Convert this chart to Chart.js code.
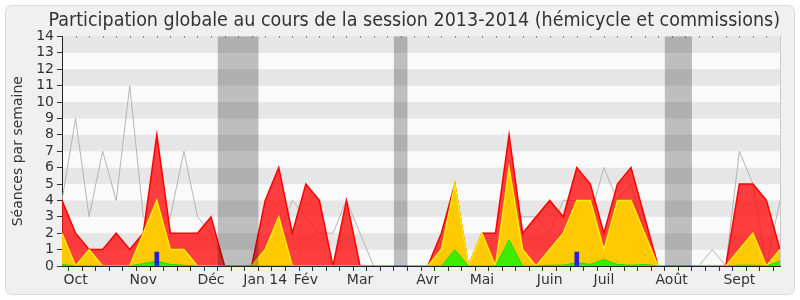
<!DOCTYPE html>
<html>
<head>
<meta charset="utf-8">
<script src="https://cdn.jsdelivr.net/npm/chart.js@4.4.0/dist/chart.umd.min.js"></script>
<style>
  body { margin: 0; background: #fff; }
  canvas { display: block; }
</style>
</head>
<body>
<canvas id="participation" width="800" height="300"></canvas>
<script>
// une valeur par semaine, de fin septembre 2013 a fin septembre 2014
const moisLabels = ['Oct', 'Nov', 'Déc', 'Jan 14', 'Fév', 'Mar', 'Avr', 'Mai', 'Juin', 'Juil', 'Août', 'Sept'];
const moisSemaine = [1, 6, 11, 15, 18, 22, 27, 31, 36, 40, 45, 50];

const presences = [4, 2, 1, 1, 2, 1, 2, 8, 2, 2, 2, 3, 0, 0, 0, 4, 6, 2, 5, 4, 0, 4, 0, 0, 0, 0, 0, 0,
  2, 5, 0, 2, 2, 8, 2, 3, 4, 3, 6, 5, 2, 5, 6, 3, 0, 0, 0, 0, 0, 0, 5, 5, 4, 1];
const commissions = [2, 0, 1, 0, 0, 0, 2, 4, 1, 1, 0, 0, 0, 0, 0, 1, 3, 0, 0, 0, 0, 0, 0, 0, 0, 0, 0, 0,
  1, 5, 0, 2, 0, 6, 1, 0, 1, 2, 4, 4, 1, 4, 4, 2, 0, 0, 0, 0, 0, 0, 1, 2, 0, 1];
const interventions = [0.1, 0, 0, 0, 0, 0, 0.15, 0.3, 0.1, 0.05, 0, 0, 0, 0, 0, 0, 0, 0, 0, 0, 0, 0, 0, 0, 0, 0, 0, 0,
  0, 1, 0, 0, 0, 1.6, 0, 0, 0.05, 0.05, 0.2, 0.1, 0.4, 0.1, 0.05, 0.1, 0, 0, 0, 0, 0, 0, 0.05, 0.05, 0, 0.3];
const questions = [null, null, null, null, null, null, null, 0.85, null, null, null, null, null, null, null, null, null, null,
  null, null, null, null, null, null, null, null, null, null, null, null, null, null, null, null, null, null, null, null,
  0.85, null, null, null, null, null, null, null, null, null, null, null, null, null, null, null];
const maximum = [4, 9, 3, 7, 4, 11, 3, 2, 3, 7, 3, 2, 0, 0, 0, 1, 2, 4, 3, 2, 2, 4, 2, 0, 0, 0, 0, 0,
  1, 3, 0, 2, 2, 3, 3, 3, 2, 4, 4, 3, 6, 4, 5, 2, 0, 0, 0, 0, 1, 0, 7, 5, 0, 4];
const vacances = [[11.5, 14.5], [24.5, 25.5], [44.5, 46.5]];

const labels = presences.map((v, i) => {
  const k = moisSemaine.indexOf(i);
  return k >= 0 ? moisLabels[k] : '';
});

const fond = {
  id: 'fond',
  beforeDraw(chart) {
    const { ctx, chartArea: a, scales: { y } } = chart;
    ctx.save();
    ctx.fillStyle = '#f0f0f0';
    ctx.strokeStyle = '#dadada';
    ctx.beginPath();
    ctx.roundRect(5.5, 5.5, 789, 289, 6);
    ctx.fill();
    ctx.stroke();
    for (let v = 0; v < 14; v++) {
      const y1 = y.getPixelForValue(v + 1), y0 = y.getPixelForValue(v);
      ctx.fillStyle = v % 2 ? '#e6e6e6' : '#fafafa';
      ctx.fillRect(a.left, y1, a.width, y0 - y1);
    }
    ctx.restore();
  },
  afterDatasetsDraw(chart) {
    const { ctx, chartArea: a, scales: { x } } = chart;
    ctx.save();
    ctx.fillStyle = 'rgba(10,10,10,0.25)';
    vacances.forEach(([d, f]) => {
      const x0 = x.getPixelForValue(d), x1 = x.getPixelForValue(f);
      ctx.fillRect(x0, a.top, x1 - x0, a.height);
    });
    ctx.fillStyle = '#333';
    labels.forEach((l, i) => {
      ctx.fillRect(Math.round(x.getPixelForValue(i)), a.top, 1, 1);
    });
    ctx.fillStyle = '#cccccc';
    ctx.fillRect(a.right, a.top, 1, a.height);
    ctx.restore();
  }
};

const ligne = (data, bord, fondCouleur, largeur, ordre) => ({
  type: 'line', data, borderColor: bord, backgroundColor: fondCouleur, borderWidth: largeur,
  fill: fondCouleur ? 'origin' : false, pointRadius: 0, tension: 0, order: ordre
});

new Chart(document.getElementById('participation').getContext('2d'), {
  data: {
    labels: labels,
    datasets: [
      { type: 'bar', data: questions, backgroundColor: '#2222dd', barThickness: 4, order: 0 },
      ligne(interventions, '#22dd00', 'rgba(40,240,0,0.9)', 1, 1),
      ligne(commissions, '#ffee00', 'rgba(255,212,0,0.93)', 1.5, 2),
      ligne(presences, '#ff0000', 'rgba(255,10,10,0.78)', 1.5, 3),
      ligne(maximum, '#b4b4b4', null, 1, 4)
    ]
  },
  options: {
    responsive: false,
    animation: false,
    layout: { padding: { left: 0, right: 20, top: 0, bottom: 0 } },
    plugins: {
      legend: { display: false },
      tooltip: { enabled: false },
      title: {
        display: true,
        align: 'end',
        text: 'Participation globale au cours de la session 2013-2014 (hémicycle et commissions)',
        color: '#333',
        font: { family: "'DejaVu Sans Condensed', 'DejaVu Sans'", size: 19.5, weight: 'normal' },
        padding: { top: 9, bottom: 4 }
      }
    },
    scales: {
      x: {
        type: 'category',
        offset: false,
        grid: { drawOnChartArea: false, tickLength: 5, color: '#333' },
        border: { color: '#222' },
        ticks: {
          autoSkip: false, maxRotation: 0, padding: 1, color: '#333',
          font: { family: 'DejaVu Sans', size: 14 }
        },
        afterFit: s => { s.height = 34; }
      },
      y: {
        min: 0, max: 14,
        grid: { drawOnChartArea: false, tickLength: 5, color: '#333' },
        border: { color: '#222' },
        ticks: {
          stepSize: 1, autoSkip: false, padding: 3, color: '#333',
          font: { family: 'DejaVu Sans', size: 14 }
        },
        title: {
          display: true, text: 'Séances par semaine', color: '#333',
          font: { family: 'DejaVu Sans', size: 14 }, padding: { top: 10, bottom: 0 }
        },
        afterFit: s => { s.width = 62; }
      }
    }
  },
  plugins: [fond]
});
</script>
</body>
</html>
